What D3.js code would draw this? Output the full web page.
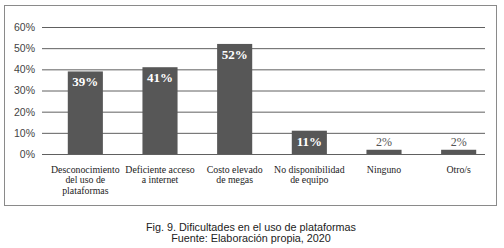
<!DOCTYPE html>
<html><head><meta charset="utf-8">
<script src="https://cdn.jsdelivr.net/npm/d3@7"></script>
<style>body{margin:0;background:#fff}svg{display:block}</style>
</head><body>
<svg id="c" width="504" height="248"></svg>
<script>
const categories = [["Desconocimiento","del uso de","plataformas"],["Deficiente acceso","a internet"],["Costo elevado","de megas"],["No disponibilidad","de equipo"],["Ninguno"],["Otro/s"]];
const values = [39, 41, 52, 11, 2, 2];
const tickValues = [0, 10, 20, 30, 40, 50, 60];
const captionLines = ["Fig. 9. Dificultades en el uso de plataformas", "Fuente: Elaboración propia, 2020"];

const svg = d3.select("#c");
svg.append("rect").attr("x",4.5).attr("y",5.5).attr("width",492).attr("height",200)
  .attr("fill","none").attr("stroke","#8a8a8a").attr("stroke-width",1);

const y = d3.scaleLinear().domain([0,60]).range([154,27]);
const x = d3.scaleBand().domain(d3.range(values.length)).range([48,496]).paddingInner(0.53).paddingOuter(0.265);

const axis = d3.axisLeft(y).tickValues(tickValues).tickFormat(d=>d+"%").tickSize(-443).tickPadding(7);
const g = svg.append("g").attr("transform","translate(42,0)").call(axis);
g.select(".domain").remove();
g.selectAll(".tick line").attr("stroke","#606060").attr("stroke-width",1);
g.selectAll(".tick text").attr("fill","#444").attr("font-family","Liberation Sans, Arial, sans-serif").attr("font-size",10.5);

svg.selectAll("rect.bar").data(values).enter().append("rect").attr("class","bar")
  .attr("x",(d,i)=>x(i)).attr("width",x.bandwidth())
  .attr("y",d=>y(d)).attr("height",d=>y(0)-y(d)).attr("fill","#575757");

svg.selectAll("text.val").data(values).enter().append("text").attr("class","val")
  .attr("x",(d,i)=>x(i)+x.bandwidth()/2)
  .attr("y",d=> d>=10 ? y(d)+15 : y(d)-3.5)
  .attr("text-anchor","middle")
  .attr("font-family","Liberation Serif, Times New Roman, serif")
  .attr("font-size",d=> d>=10 ? 13 : 12)
  .attr("font-weight",d=> d>=10 ? "bold" : "normal")
  .attr("fill",d=> d>=10 ? "#fff" : "#555")
  .text(d=>d+"%");

categories.forEach((lines,i)=>{
  const t = svg.append("text").attr("text-anchor","middle")
    .attr("font-family","Liberation Serif, Times New Roman, serif").attr("font-size",9.8)
    .attr("fill","#222");
  lines.forEach((ln,j)=>{
    t.append("tspan").attr("x",x(i)+x.bandwidth()/2).attr("y",173+j*10.3).text(ln);
  });
});

captionLines.forEach((ln,j)=>{
  svg.append("text").attr("x",251).attr("y",231+j*10.5).attr("text-anchor","middle")
    .attr("font-family","Liberation Sans, Arial, sans-serif").attr("font-size",10.8)
    .attr("fill","#222").text(ln);
});
</script>
</body></html>
